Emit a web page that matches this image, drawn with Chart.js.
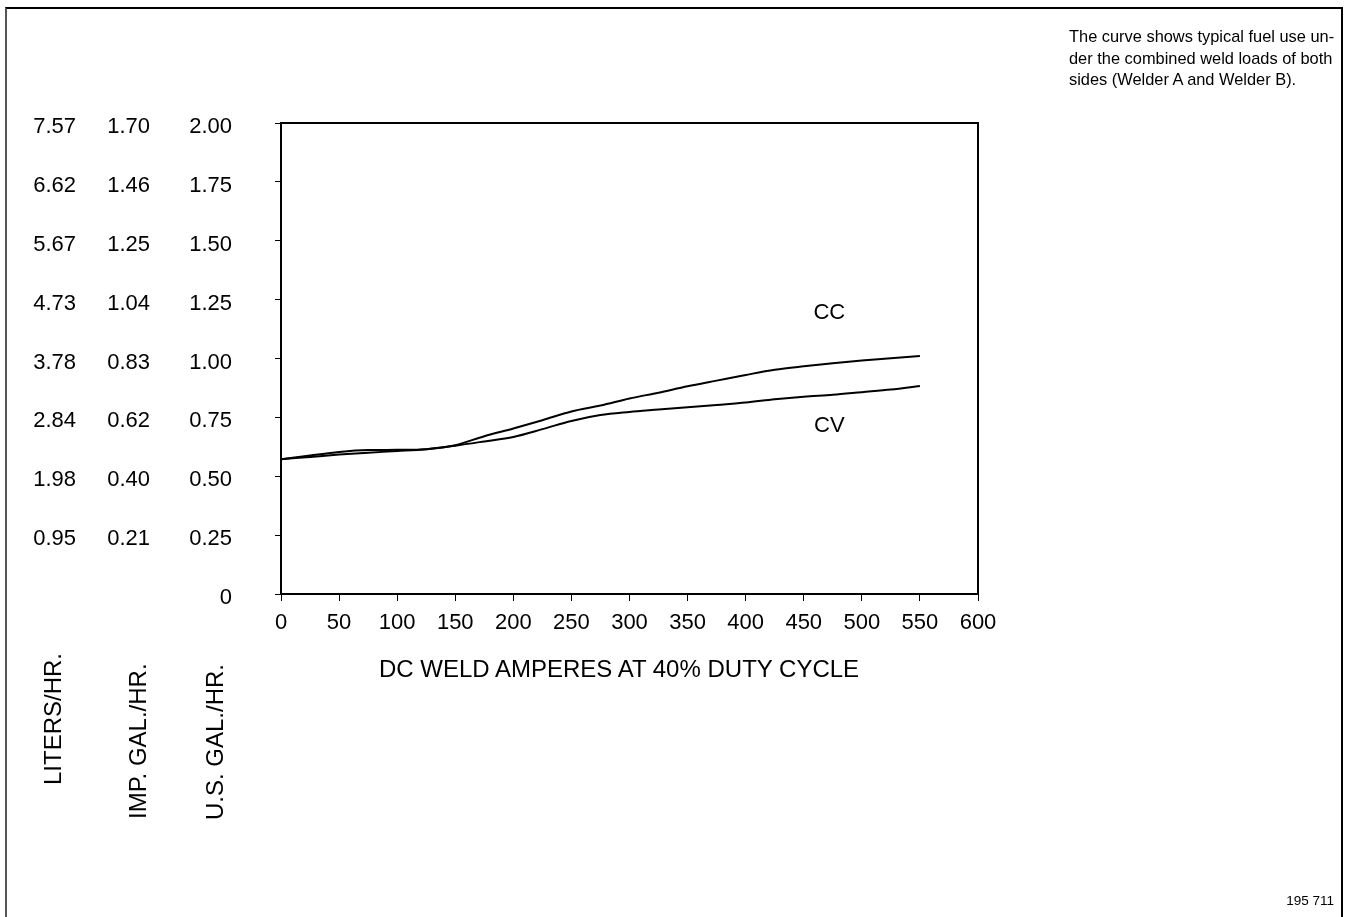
<!DOCTYPE html>
<html>
<head>
<meta charset="utf-8">
<script src="https://cdn.jsdelivr.net/npm/chart.js@4/dist/chart.umd.min.js"></script>
<style>
  html, body { margin: 0; padding: 0; background: #fff; }
  #wrap { position: relative; width: 1349px; height: 917px; overflow: hidden;
          font-family: "Liberation Sans", Arial, sans-serif; color: #000; }
  #frame { position: absolute; left: 5px; top: 7px; width: 1338px; height: 930px;
           border-left: 2px solid #555; border-top: 2px solid #000; border-right: 2px solid #000;
           box-sizing: border-box; }
  #chart { position: absolute; left: 0; top: 0; }
  .note { position: absolute; left: 1069px; top: 26px; font-size: 16.4px; line-height: 21.5px; }
  .unit { position: absolute; font-size: 24px; line-height: 24px; white-space: nowrap;
          transform-origin: left top; transform: rotate(-90deg); }
  .xtitle { position: absolute; left: 619px; top: 655px; font-size: 24px; line-height: 27px;
            transform: translateX(-50%); white-space: nowrap; }
  .code { position: absolute; right: 15px; top: 893px; font-size: 13.5px; }
</style>
</head>
<body>
<div id="wrap">
  <div id="frame"></div>
  <canvas id="chart" width="1349" height="917"></canvas>
  <div class="note">The curve shows typical fuel use un-<br>der the combined weld loads of both<br>sides (Welder A and Welder B).</div>
  <div class="unit" style="left:41px; top:785px;">LITERS/HR.</div>
  <div class="unit" style="left:126px; top:819px;">IMP. GAL./HR.</div>
  <div class="unit" style="left:203px; top:820px;">U.S. GAL./HR.</div>
  <div class="xtitle">DC WELD AMPERES AT 40% DUTY CYCLE</div>
  <div class="code">195 711</div>
</div>
<script>
// Weld current (A) and fuel use in U.S. gallons per hour
const amps   = [0, 25, 50, 75, 100, 125, 150, 175, 200, 225, 250, 275, 300, 325, 350, 375, 400, 425, 450, 475, 500, 525, 550];
const ccFuel = [0.572, 0.582, 0.592, 0.600, 0.607, 0.615, 0.632, 0.670, 0.703, 0.738, 0.775, 0.800, 0.830, 0.855, 0.882, 0.906, 0.930, 0.952, 0.967, 0.980, 0.991, 1.001, 1.011];
const cvFuel = [0.572, 0.588, 0.603, 0.611, 0.612, 0.615, 0.630, 0.648, 0.667, 0.700, 0.735, 0.760, 0.773, 0.783, 0.793, 0.803, 0.813, 0.827, 0.838, 0.846, 0.857, 0.868, 0.883];

// Tick labels for the three fuel-rate columns
const usGalTicks  = ['0', '0.25', '0.50', '0.75', '1.00', '1.25', '1.50', '1.75', '2.00'];
const impGalTicks = ['', '0.21', '0.40', '0.62', '0.83', '1.04', '1.25', '1.46', '1.70'];
const literTicks  = ['', '0.95', '1.98', '2.84', '3.78', '4.73', '5.67', '6.62', '7.57'];

// Curve names and where they sit (amps, U.S. gal/hr)
const curveNames = ['CC', 'CV'];
const curveNameAt = [[472, 1.195], [472, 0.715]];

const FONT = 'Liberation Sans';

const plotBox = {
  id: 'plotBox',
  afterDraw(chart) {
    const { ctx, chartArea: a } = chart;
    ctx.save();
    ctx.strokeStyle = '#000';
    ctx.lineWidth = 2;
    ctx.beginPath();
    ctx.moveTo(a.left, a.top);
    ctx.lineTo(a.right, a.top);
    ctx.lineTo(a.right, a.bottom);
    ctx.stroke();
    ctx.restore();
  }
};

const curveLabels = {
  id: 'curveLabels',
  afterDatasetsDraw(chart) {
    const { ctx, scales } = chart;
    ctx.save();
    ctx.fillStyle = '#000';
    ctx.font = '22px "' + FONT + '"';
    ctx.textAlign = 'center';
    ctx.textBaseline = 'middle';
    curveNames.forEach((name, i) => {
      const [xv, yv] = curveNameAt[i];
      ctx.fillText(name, scales.x.getPixelForValue(xv), scales.y.getPixelForValue(yv));
    });
    ctx.restore();
  }
};

function series(values) {
  return amps.map((a, i) => ({ x: a, y: values[i] }));
}

function sideAxis(labels, width, padding) {
  return {
    type: 'linear', position: 'left', min: 0, max: 2,
    grid: { display: false, drawTicks: false },
    border: { display: false },
    ticks: {
      stepSize: 0.25, padding: padding, labelOffset: 4, color: '#000',
      font: { family: FONT, size: 22 },
      callback: (v, i) => labels[i]
    },
    afterFit: (s) => { s.width = width; }
  };
}

new Chart(document.getElementById('chart'), {
  type: 'line',
  data: {
    datasets: [
      { label: 'CC', data: series(ccFuel), borderColor: '#000', borderWidth: 2,
        pointRadius: 0, cubicInterpolationMode: 'monotone', fill: false },
      { label: 'CV', data: series(cvFuel), borderColor: '#000', borderWidth: 2,
        pointRadius: 0, cubicInterpolationMode: 'monotone', fill: false }
    ]
  },
  options: {
    responsive: false,
    animation: false,
    devicePixelRatio: 1,
    layout: { padding: { left: 0, top: 123, right: 371, bottom: 273 } },
    plugins: { legend: { display: false }, tooltip: { enabled: false } },
    scales: {
      x: {
        type: 'linear', position: 'bottom', min: 0, max: 600,
        grid: { drawOnChartArea: false, tickLength: 7, color: '#000', lineWidth: 1 },
        border: { color: '#000', width: 2 },
        ticks: { stepSize: 50, padding: 9, color: '#000', font: { family: FONT, size: 22 },
                 maxRotation: 0, autoSkip: false },
        afterFit: (s) => { s.height = 50; }
      },
      y: {
        type: 'linear', position: 'left', min: 0, max: 2,
        grid: { drawOnChartArea: false, tickLength: 6, color: '#000', lineWidth: 1 },
        border: { color: '#000', width: 2 },
        ticks: { stepSize: 0.25, padding: 43, labelOffset: 4, color: '#000',
                 font: { family: FONT, size: 22 },
                 callback: (v, i) => usGalTicks[i] },
        afterFit: (s) => { s.width = 121; }
      },
      yImp: sideAxis(impGalTicks, 70, 10),
      yLit: sideAxis(literTicks, 90, 14)
    }
  },
  plugins: [plotBox, curveLabels]
});
</script>
</body>
</html>
